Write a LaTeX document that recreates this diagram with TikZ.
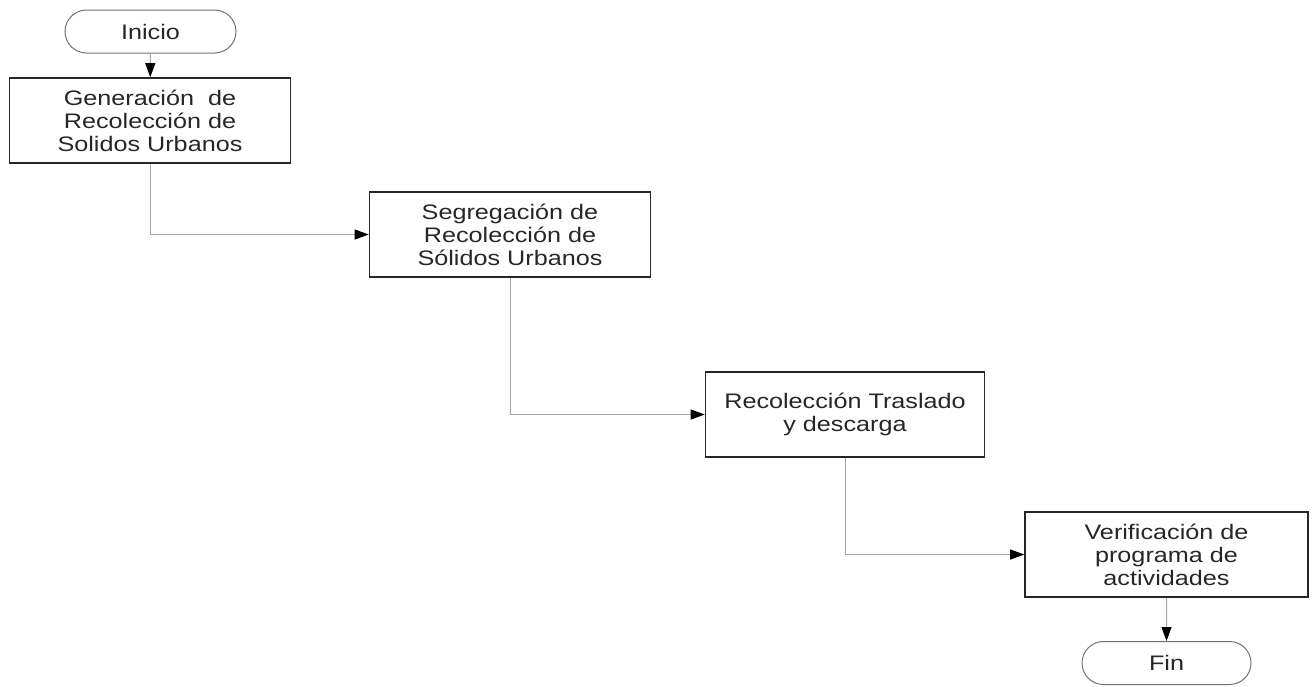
\documentclass[tikz,border=0pt]{standalone}
\usepackage{fontspec}
\setmainfont{Liberation Sans}[FakeStretch=1.2]
\usetikzlibrary{arrows.meta,shapes.misc}
\begin{document}
\begin{tikzpicture}[x=1pt,y=-1pt,
  every node/.style={font=\fontsize{21}{23}\selectfont, text=black!85},
  procbox/.style={draw=black!85, line width=1.6pt, rectangle, minimum width=281pt, minimum height=85pt, align=center, inner sep=2pt},
  term/.style={draw=black!55, line width=1pt, rounded rectangle, minimum width=175pt, minimum height=43pt, inner sep=2pt},
  conn/.style={draw=black!35, line width=1pt, -{Triangle[length=14pt,width=10pt,color=black]}}
]
\useasboundingbox (0,0) rectangle (1313,686);
\node[term] (ini) at (150.5,31.5) {Inicio};
\node[procbox] (b1) at (150,120.5) {Generación\ \ de\\Recolección de\\Solidos Urbanos};
\node[procbox] (b2) at (510,234.5) {Segregación de\\Recolección de\\Sólidos Urbanos};
\node[procbox, minimum width=279pt] (b3) at (845,414.5) {Recolección Traslado\\y descarga};
\node[procbox, minimum width=283pt] (b4) at (1166.5,554.5) {Verificación de\\programa de\\actividades};
\node[term, minimum width=173pt] (fin) at (1166.5,663) {Fin};
\draw[conn] (ini) -- (b1);
\draw[conn] (b1.south) |- (b2.west);
\draw[conn] (b2.south) |- (b3.west);
\draw[conn] (b3.south) |- (b4.west);
\draw[conn] (b4) -- (fin);
\end{tikzpicture}
\end{document}
